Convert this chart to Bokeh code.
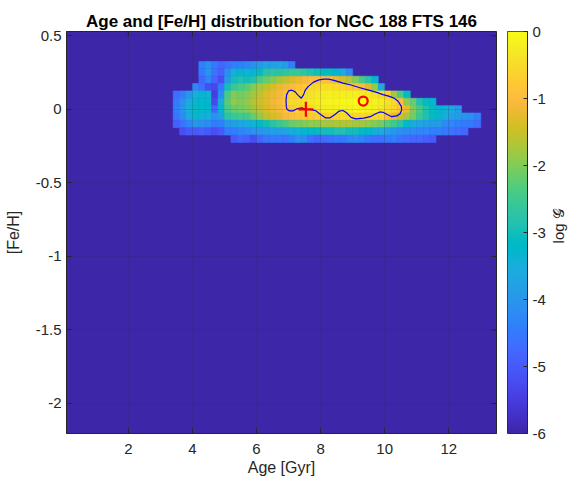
import numpy as np
from math import pi
from bokeh.plotting import figure
from bokeh.models import (LinearColorMapper, ColumnDataSource, Label, FixedTicker, Range1d)
from bokeh.transform import transform
from bokeh.layouts import row
from bokeh.embed import file_html
from bokeh.resources import INLINE

TITLE = "Age and [Fe/H] distribution for NGC 188 FTS 146"
X_LABEL = "Age [Gyr]"
Y_LABEL = "[Fe/H]"
CB_LABEL = "log 𝒢"

# cell centres (Age in Gyr, [Fe/H] in dex)
ages = [3.5, 3.7, 3.9, 4.1, 4.3, 4.5, 4.7, 4.9, 5.1, 5.3, 5.5, 5.7,
        5.9, 6.1, 6.3, 6.5, 6.7, 6.9, 7.1, 7.3, 7.5, 7.7, 7.9, 8.1,
        8.3, 8.5, 8.7, 8.9, 9.1, 9.3, 9.5, 9.7, 9.9, 10.1, 10.3, 10.5,
        10.7, 10.9, 11.1, 11.3, 11.5, 11.7, 11.9, 12.1, 12.3, 12.5, 12.7, 12.9]
feh = [0.30, 0.25, 0.20, 0.15, 0.10, 0.05, 0.00, -0.05, -0.10, -0.15, -0.20]

# log G per [Fe/H] row (-6 = floor of colour scale)
logG_p030 = [-6, -6, -6, -6, -4.4, -4.1, -4.5, -4.8, -4.6, -4.4, -4.4, -4.3,
             -4.1, -3.9, -3.7, -3.8, -3.7, -3.9, -4.4, -6, -6, -6, -6, -6,
             -6, -6, -6, -6, -6, -6, -6, -6, -6, -6, -6, -6,
             -6, -6, -6, -6, -6, -6, -6, -6, -6, -6, -6, -6]
logG_p025 = [-6, -6, -6, -6, -4.5, -4.0, -4.6, -4.9, -4.2, -3.5, -3.3, -3.4,
             -3.3, -3.1, -2.8, -2.7, -2.8, -2.7, -2.6, -2.6, -2.7, -2.9, -3.0, -3.1,
             -3.1, -3.3, -3.6, -4.2, -6, -6, -6, -6, -6, -6, -6, -6,
             -6, -6, -6, -6, -6, -6, -6, -6, -6, -6, -6, -6]
logG_p020 = [-6, -6, -6, -6, -4.8, -4.3, -4.8, -5.2, -4.0, -3.0, -2.9, -3.0,
             -2.9, -2.4, -2.2, -2.0, -1.8, -1.6, -1.4, -1.2, -1.1, -1.0, -0.9, -0.9,
             -1.0, -1.2, -1.4, -1.6, -2.0, -2.4, -2.8, -3.3, -6, -6, -6, -6,
             -6, -6, -6, -6, -6, -6, -6, -6, -6, -6, -6, -6]
logG_p015 = [-6, -6, -6, -4.3, -4.6, -5.2, -5.3, -4.5, -3.0, -2.6, -2.4, -2.3,
             -2.0, -1.8, -1.6, -1.4, -1.2, -1.1, -1.0, -0.9, -0.8, -0.6, -0.5, -0.45,
             -0.45, -0.5, -0.6, -0.7, -0.8, -1.0, -1.3, -1.9, -3.6, -6, -6, -6,
             -6, -6, -6, -6, -6, -6, -6, -6, -6, -6, -6, -6]
logG_p010 = [-4.7, -4.4, -4.0, -3.5, -3.3, -3.4, -5.5, -4.2, -2.4, -2.0, -2.1, -2.0,
             -1.8, -1.6, -1.35, -1.2, -1.1, -0.9, -0.6, -0.6, -0.5, -0.4, -0.3, -0.25,
             -0.2, -0.2, -0.2, -0.2, -0.2, -0.25, -0.3, -0.4, -0.5, -0.7, -1.8, -2.4,
             -3.1, -6, -6, -6, -6, -6, -6, -6, -6, -6, -6, -6]
logG_p005 = [-4.5, -4.1, -3.6, -3.3, -3.2, -3.3, -5.3, -3.5, -2.3, -1.9, -2.0, -1.9,
             -1.7, -1.5, -1.3, -1.15, -1.05, -0.8, -0.5, -0.5, -0.4, -0.3, -0.2, -0.15,
             -0.1, -0.1, -0.05, -0.05, 0.0, 0.0, -0.05, -0.15, -0.25, -0.4, -0.55, -1.0,
             -1.9, -2.2, -2.9, -3.1, -3.3, -6, -6, -6, -6, -6, -6, -6]
logG_000 = [-4.4, -4.0, -3.5, -3.1, -3.2, -3.3, -4.8, -3.3, -2.4, -2.2, -2.1, -2.0,
            -1.8, -1.6, -1.35, -1.2, -1.1, -0.9, -0.75, -0.6, -0.5, -0.4, -0.3, -0.25,
            -0.2, -0.2, -0.15, -0.15, -0.1, -0.1, -0.15, -0.2, -0.3, -0.45, -0.6, -0.8,
            -1.2, -2.0, -2.4, -2.9, -3.1, -3.3, -3.4, -3.6, -3.9, -6, -6, -6]
logG_m005 = [-4.6, -4.2, -3.6, -3.3, -3.4, -3.5, -4.1, -3.8, -2.8, -2.6, -2.5, -2.5,
             -2.2, -1.9, -1.6, -1.4, -1.3, -1.1, -1.0, -0.9, -0.8, -0.8, -0.7, -0.7,
             -0.65, -0.6, -0.5, -0.55, -0.6, -0.6, -0.6, -0.55, -0.55, -0.9, -1.2, -1.5,
             -1.8, -2.1, -2.6, -2.9, -3.1, -3.2, -3.5, -3.8, -3.9, -4.0, -4.1, -4.4]
logG_m010 = [-4.9, -4.6, -4.3, -4.0, -4.1, -4.2, -4.5, -4.4, -3.9, -3.8, -3.7, -3.6,
             -3.4, -3.2, -3.0, -2.8, -2.6, -2.4, -2.2, -2.1, -2.0, -1.9, -1.9, -1.8,
             -1.8, -1.7, -1.7, -1.7, -1.8, -1.8, -1.9, -2.0, -2.1, -2.3, -2.5, -2.8,
             -3.2, -3.5, -3.7, -3.8, -3.9, -3.9, -4.2, -4.3, -4.4, -4.5, -4.5, -4.7]
logG_m015 = [-6, -5.2, -5.0, -5.0, -4.9, -5.0, -5.2, -5.0, -4.5, -4.4, -4.3, -4.2,
             -4.1, -4.0, -3.9, -3.8, -3.8, -3.7, -3.5, -3.4, -3.3, -3.2, -3.1, -3.0,
             -3.0, -2.9, -2.9, -3.0, -3.0, -3.1, -3.2, -3.4, -3.6, -3.8, -4.0, -4.1,
             -4.2, -4.2, -4.3, -4.3, -4.4, -4.4, -4.5, -4.6, -4.7, -4.8, -6, -6]
logG_m020 = [-6, -6, -6, -6, -6, -6, -6, -6, -6, -5.0, -4.8, -4.9,
             -5.2, -4.8, -4.6, -4.5, -4.5, -4.6, -4.4, -4.1, -4.2, -4.6, -4.8, -4.7,
             -4.6, -4.5, -4.5, -4.3, -4.2, -4.3, -4.5, -4.6, -4.6, -4.5, -4.4, -4.6,
             -4.7, -4.8, -4.8, -4.9, -5.0, -6, -6, -6, -6, -6, -6, -6]
logG_rows = [logG_p030, logG_p025, logG_p020, logG_p015, logG_p010, logG_p005,
             logG_000, logG_m005, logG_m010, logG_m015, logG_m020]

# best-fit (+) and median (o) points
best_age = [7.54]
best_feh = [0.0]
med_age = [9.33]
med_feh = [0.056]

# credible-region contour
contour_age = [6.93, 6.92, 6.94, 7.00, 7.10, 7.20, 7.30, 7.40, 7.47, 7.52, 7.62, 7.78,
               7.95, 8.10, 8.25, 8.45, 8.70, 8.95, 9.20, 9.50, 9.75, 9.95, 10.15, 10.30,
               10.42, 10.52, 10.53, 10.48, 10.38, 10.22, 10.08, 9.95, 9.85, 9.72, 9.55, 9.35,
               9.10, 8.95, 8.82, 8.70, 8.58, 8.45, 8.30, 8.15, 8.00, 7.85, 7.70, 7.55,
               7.42, 7.28, 7.15, 7.02, 6.95, 6.93]
contour_feh = [0.02, 0.06, 0.10, 0.125, 0.13, 0.12, 0.095, 0.075, 0.10, 0.13, 0.156, 0.185,
               0.20, 0.205, 0.205, 0.195, 0.178, 0.165, 0.148, 0.13, 0.115, 0.10, 0.088, 0.075,
               0.055, 0.02, -0.005, -0.03, -0.045, -0.05, -0.035, -0.02, -0.018, -0.03, -0.05, -0.06,
               -0.065, -0.055, -0.025, -0.008, -0.012, -0.035, -0.058, -0.058, -0.035, -0.01, -0.002, 0.0,
               0.01, 0.005, -0.01, -0.01, 0.0, 0.02]

x_ticks = [2, 4, 6, 8, 10, 12]
x_tick_labels = ["2", "4", "6", "8", "10", "12"]
y_ticks = [-2, -1.5, -1, -0.5, 0, 0.5]
y_tick_labels = ["-2", "-1.5", "-1", "-0.5", "0", "0.5"]
cb_ticks = [-6, -5, -4, -3, -2, -1, 0]
cb_tick_labels = ["-6", "-5", "-4", "-3", "-2", "-1", "0"]

# MATLAB parula (64 entries)
PARULA64 = [
    (0.2422, 0.1504, 0.6603), (0.2504, 0.1650, 0.7076), (0.2578, 0.1818, 0.7511), (0.2647, 0.1978, 0.7952),
    (0.2706, 0.2147, 0.8364), (0.2751, 0.2342, 0.8710), (0.2783, 0.2559, 0.8991), (0.2803, 0.2782, 0.9221),
    (0.2813, 0.3006, 0.9414), (0.2810, 0.3228, 0.9579), (0.2795, 0.3447, 0.9717), (0.2760, 0.3667, 0.9829),
    (0.2699, 0.3892, 0.9906), (0.2602, 0.4123, 0.9952), (0.2440, 0.4358, 0.9988), (0.2206, 0.4603, 0.9973),
    (0.1963, 0.4847, 0.9892), (0.1834, 0.5074, 0.9798), (0.1786, 0.5289, 0.9682), (0.1764, 0.5499, 0.9520),
    (0.1687, 0.5703, 0.9359), (0.1540, 0.5902, 0.9218), (0.1460, 0.6091, 0.9079), (0.1380, 0.6276, 0.8973),
    (0.1248, 0.6459, 0.8883), (0.1113, 0.6635, 0.8763), (0.0952, 0.6798, 0.8598), (0.0689, 0.6948, 0.8394),
    (0.0297, 0.7082, 0.8163), (0.0036, 0.7203, 0.7917), (0.0067, 0.7312, 0.7660), (0.0433, 0.7411, 0.7394),
    (0.0964, 0.7500, 0.7120), (0.1408, 0.7584, 0.6842), (0.1717, 0.7670, 0.6554), (0.1938, 0.7758, 0.6251),
    (0.2161, 0.7843, 0.5923), (0.2470, 0.7918, 0.5567), (0.2906, 0.7973, 0.5188), (0.3406, 0.8008, 0.4789),
    (0.3909, 0.8029, 0.4354), (0.4456, 0.8024, 0.3909), (0.5044, 0.7993, 0.3480), (0.5616, 0.7942, 0.3045),
    (0.6174, 0.7876, 0.2612), (0.6720, 0.7793, 0.2227), (0.7242, 0.7698, 0.1910), (0.7738, 0.7598, 0.1646),
    (0.8203, 0.7498, 0.1535), (0.8634, 0.7406, 0.1596), (0.9035, 0.7330, 0.1774), (0.9393, 0.7288, 0.2100),
    (0.9728, 0.7298, 0.2394), (0.9956, 0.7434, 0.2371), (0.9970, 0.7659, 0.2199), (0.9952, 0.7893, 0.2028),
    (0.9892, 0.8136, 0.1885), (0.9786, 0.8386, 0.1766), (0.9676, 0.8639, 0.1643), (0.9610, 0.8890, 0.1537),
    (0.9597, 0.9135, 0.1423), (0.9628, 0.9373, 0.1265), (0.9691, 0.9606, 0.1064), (0.9769, 0.9839, 0.0805)]

par = np.array(PARULA64)
t64 = np.linspace(0, 1, 64)
t256 = np.linspace(0, 1, 256)
palette = ["#%02x%02x%02x" % tuple(int(round(255 * np.interp(t, t64, par[:, k]))) for k in range(3))
           for t in t256]
mapper = LinearColorMapper(palette=palette, low=-6, high=0)

FONT = "Liberation Sans"
TXT = "#262626"
X_MIN, X_MAX = 0.07, 13.49
Y_MIN, Y_MAX = -2.204, 0.529

cx, cy, cv = [], [], []
for f, vals in zip(feh, logG_rows):
    for a, v in zip(ages, vals):
        if v > -6:
            cx.append(a)
            cy.append(f)
            cv.append(v)
src = ColumnDataSource(dict(x=cx, y=cy, v=cv))

p = figure(frame_width=430, frame_height=402,
           x_range=Range1d(X_MIN, X_MAX), y_range=Range1d(Y_MIN, Y_MAX),
           min_border_left=66, min_border_right=10, min_border_top=31, min_border_bottom=48,
           output_backend="svg", toolbar_location=None, title=TITLE)
p.background_fill_color = palette[0]
p.border_fill_color = "white"
p.outline_line_color = TXT
p.outline_line_width = 1

p.rect(x="x", y="y", width=0.2, height=0.05, source=src,
       fill_color=transform("v", mapper), line_color=transform("v", mapper), line_width=0.6)

p.line(contour_age, contour_feh, line_color="#0000ff", line_width=1.2)
p.scatter(best_age, best_feh, marker="cross", size=15, line_color="#ff0000", line_width=2.2)
p.scatter(med_age, med_feh, marker="circle", size=9, fill_color=None, line_color="#ff0000", line_width=2.2)

# inward ticks on the top and right edges of the box (half of each dash is clipped)
p.scatter(x_ticks, [Y_MAX] * len(x_ticks), marker="dash", angle=pi / 2, size=10,
          line_color=TXT, line_width=1)
p.scatter([X_MAX] * len(y_ticks), y_ticks, marker="dash", size=10, line_color=TXT, line_width=1)

p.title.text_font = FONT
p.title.text_font_size = "17px"
p.title.text_font_style = "bold"
p.title.text_color = "black"
p.title.align = "center"
p.title.standoff = 1

p.xaxis.ticker = FixedTicker(ticks=x_ticks)
p.xaxis.major_label_overrides = dict(zip(x_ticks, x_tick_labels))
p.yaxis.ticker = FixedTicker(ticks=y_ticks)
p.yaxis.major_label_overrides = dict(zip(y_ticks, y_tick_labels))
p.xaxis.axis_label = X_LABEL
p.yaxis.axis_label = Y_LABEL
for ax in (p.xaxis[0], p.yaxis[0]):
    ax.major_tick_in = 5
    ax.major_tick_out = 0
    ax.minor_tick_line_color = None
    ax.axis_line_color = TXT
    ax.major_tick_line_color = TXT
    ax.major_label_text_font = FONT
    ax.major_label_text_font_size = "15px"
    ax.major_label_text_color = TXT
    ax.axis_label_text_font = FONT
    ax.axis_label_text_font_size = "16px"
    ax.axis_label_text_font_style = "normal"
    ax.axis_label_text_color = TXT
p.xaxis.major_label_standoff = 10
p.xaxis.axis_label_standoff = 2
p.yaxis.major_label_standoff = 5
p.yaxis.axis_label_standoff = 11

p.grid.level = "overlay"
p.grid.grid_line_color = TXT
p.grid.grid_line_alpha = 0.15
p.grid.grid_line_width = 1

# colour bar
cb = figure(frame_width=20, frame_height=402, x_range=Range1d(0, 1), y_range=Range1d(-6, 0),
            min_border_left=1, min_border_right=21, min_border_top=31, min_border_bottom=48,
            output_backend="svg", toolbar_location=None, y_axis_location="right",
            x_axis_location=None)
cb.grid.visible = False
cb.outline_line_color = TXT
cb.border_fill_color = "white"
grad = np.linspace(-6, 0, 256).reshape(256, 1)
cb.image(image=[grad], x=0, y=-6, dw=1, dh=6, color_mapper=mapper)
cb.yaxis.ticker = FixedTicker(ticks=cb_ticks)
cb.yaxis.major_label_overrides = dict(zip(cb_ticks, cb_tick_labels))
cb.yaxis.major_tick_in = 4
cb.yaxis.major_tick_out = 0
cb.yaxis.minor_tick_line_color = None
cb.yaxis.axis_line_color = TXT
cb.yaxis.major_tick_line_color = TXT
cb.yaxis.major_label_text_font = FONT
cb.yaxis.major_label_text_font_size = "15px"
cb.yaxis.major_label_text_color = TXT
cb.yaxis.major_label_standoff = 5

# colour bar title, rotated (reads bottom to top)
lab = figure(frame_width=27, frame_height=402, x_range=Range1d(0, 1), y_range=Range1d(-6, 0),
             min_border_left=0, min_border_right=0, min_border_top=31, min_border_bottom=48,
             output_backend="svg", toolbar_location=None, x_axis_location=None,
             y_axis_location=None)
lab.grid.visible = False
lab.outline_line_color = None
lab.background_fill_color = "white"
lab.border_fill_color = "white"
lab.add_layout(Label(x=0.37, y=-2.9, text=CB_LABEL, angle=pi / 2, text_align="center",
                     text_baseline="middle", text_font=FONT, text_font_size="15px",
                     text_color=TXT))

layout = row(p, cb, lab)
open("out.html", "w").write(file_html(layout, INLINE))
